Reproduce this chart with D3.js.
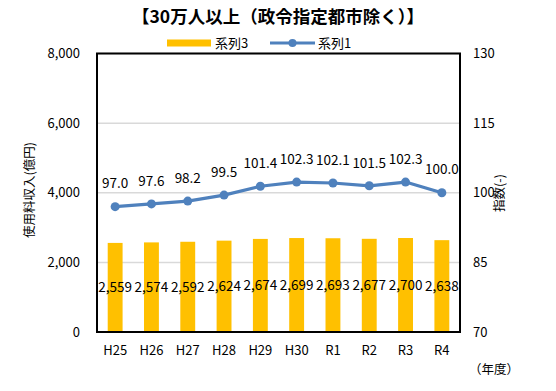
<!DOCTYPE html>
<html><head><meta charset="utf-8">
<script src="https://cdn.jsdelivr.net/npm/d3@7/dist/d3.min.js"></script>
<style>body{margin:0;background:#fff}svg{display:block}text{font-family:"Noto Sans CJK JP","Noto Sans",sans-serif;fill:#000}</style>
</head><body><svg id="c" width="556" height="391"></svg>
<script>
const categories = ["H25","H26","H27","H28","H29","H30","R1","R2","R3","R4"];
const revenue = [2559,2574,2592,2624,2674,2699,2693,2677,2700,2638];
const indexVals = [97.0,97.6,98.2,99.5,101.4,102.3,102.1,101.5,102.3,100.0];
const leftTicks = [0,2000,4000,6000,8000];
const rightTicks = [70,85,100,115,130];
const title = "【30万人以上（政令指定都市除く）】";
const barName = "系列3", lineName = "系列1";
const leftTitle = "使用料収入(億円)", rightTitle = "指数(-)", xNote = "（年度）";

const svg = d3.select("#c");
const m = {l:97, r:460, t:53.5, b:332};
const x = d3.scaleBand().domain(categories).range([m.l, m.r]).paddingInner(0.59).paddingOuter(0.295);
const yL = d3.scaleLinear().domain([0,8000]).range([m.b, m.t]);
const yR = d3.scaleLinear().domain([70,130]).range([m.b, m.t]);
const fmt = d3.format(",");

// gridlines
svg.append("g").selectAll("line").data(leftTicks).join("line")
  .attr("x1", m.l).attr("x2", m.r).attr("y1", d=>yL(d)).attr("y2", d=>yL(d))
  .attr("stroke", "#d9d9d9").attr("stroke-width", 1.5);

// bars
svg.append("g").selectAll("rect").data(revenue).join("rect")
  .attr("x", (d,i)=>x(categories[i])).attr("width", x.bandwidth())
  .attr("y", d=>yL(d)).attr("height", d=>m.b-yL(d)).attr("fill", "#ffc000");

// bar labels
svg.append("g").selectAll("text").data(revenue).join("text")
  .attr("x", (d,i)=>x(categories[i])+x.bandwidth()/2)
  .attr("y", d=>(yL(d)+m.b)/2).attr("dy", "0.35em")
  .attr("text-anchor", "middle").attr("font-size", 13.5).text(d=>fmt(d));

// line
const cx = (i)=>x(categories[i])+x.bandwidth()/2;
svg.append("path").datum(indexVals)
  .attr("d", d3.line().x((d,i)=>cx(i)).y(d=>yR(d)))
  .attr("fill","none").attr("stroke","#4f81bd").attr("stroke-width",3.2).attr("stroke-linejoin","round");
svg.append("g").selectAll("circle").data(indexVals).join("circle")
  .attr("cx",(d,i)=>cx(i)).attr("cy",d=>yR(d)).attr("r",4.5).attr("fill","#4f81bd");
svg.append("g").selectAll("text").data(indexVals).join("text")
  .attr("x",(d,i)=>cx(i)).attr("y",d=>yR(d)-23).attr("dy","0.35em")
  .attr("text-anchor","middle").attr("font-size",13.5).text(d=>d.toFixed(1));

// border
svg.append("rect").attr("x",m.l).attr("y",m.t).attr("width",m.r-m.l).attr("height",m.b-m.t)
  .attr("fill","none").attr("stroke","#000").attr("stroke-width",2);

// axes
const gL = svg.append("g").attr("transform",`translate(${m.l},0)`)
  .call(d3.axisLeft(yL).tickValues(leftTicks).tickFormat(fmt).tickSize(0).tickPadding(17));
const gR = svg.append("g").attr("transform",`translate(${m.r},0)`)
  .call(d3.axisRight(yR).tickValues(rightTicks).tickSize(0).tickPadding(13));
const gX = svg.append("g").attr("transform",`translate(0,${m.b})`)
  .call(d3.axisBottom(x).tickSize(0).tickPadding(14));
[gL,gR,gX].forEach(g=>{g.select(".domain").remove();g.selectAll("text").attr("font-size",13).attr("font-family",'"Noto Sans CJK JP",sans-serif').attr("fill","#000");});

// titles
svg.append("text").attr("x",278).attr("y",17).attr("dy","0.35em").attr("text-anchor","middle")
  .attr("font-size",17.5).attr("font-weight","bold").text(title);
svg.append("text").attr("transform","translate(30,190) rotate(-90)").attr("dy","0.35em")
  .attr("text-anchor","middle").attr("font-size",12.5).text(leftTitle);
svg.append("text").attr("transform","translate(500,193) rotate(-90)").attr("dy","0.35em")
  .attr("text-anchor","middle").attr("font-size",12.5).text(rightTitle);
svg.append("text").attr("x",494).attr("y",370).attr("dy","0.35em").attr("text-anchor","middle")
  .attr("font-size",12.5).text(xNote);

// legend
const lg = svg.append("g");
lg.append("rect").attr("x",167).attr("y",39.5).attr("width",44).attr("height",7).attr("fill","#ffc000");
lg.append("text").attr("x",215).attr("y",43).attr("dy","0.35em").attr("font-size",13).text(barName);
lg.append("line").attr("x1",270).attr("x2",315).attr("y1",43).attr("y2",43).attr("stroke","#4f81bd").attr("stroke-width",3.2);
lg.append("circle").attr("cx",292.5).attr("cy",43).attr("r",4).attr("fill","#4f81bd");
lg.append("text").attr("x",318).attr("y",43).attr("dy","0.35em").attr("font-size",13).text(lineName);
</script></body></html>
